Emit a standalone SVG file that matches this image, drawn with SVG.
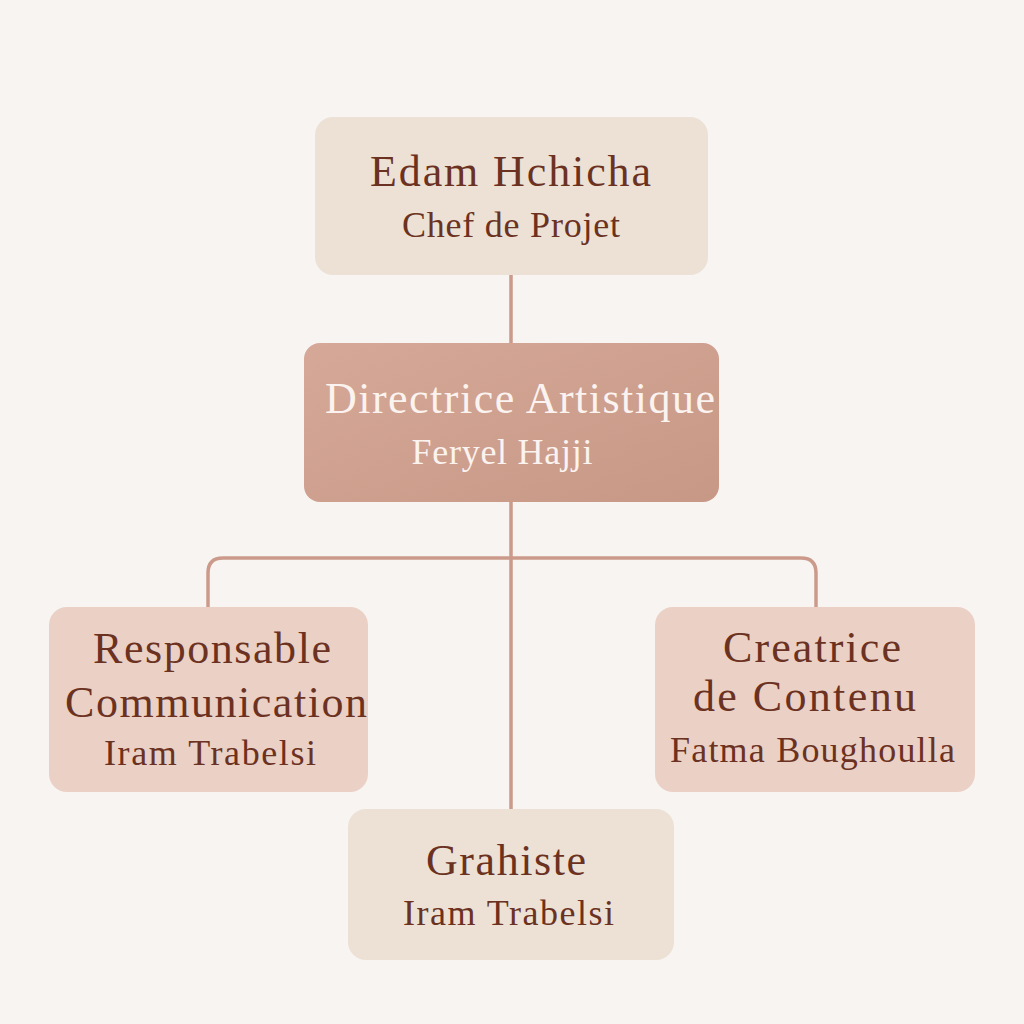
<svg xmlns="http://www.w3.org/2000/svg" width="1024" height="1024" viewBox="0 0 1024 1024">
<style>
.t{font-family:"Liberation Serif","DejaVu Serif",serif;fill:#6b3222;text-anchor:middle}
.h{font-size:44px}
.s{font-size:36px}
.w{fill:#fbf3ef}
.beige{fill:#ede1d5}
.rose{fill:#ebd0c6}
.conn{fill:none;stroke:#cb9a8b;stroke-width:3.5;stroke-linecap:round}
</style>
<defs>
<linearGradient id="dir" x1="0" y1="0" x2="1" y2="1">
<stop offset="0" stop-color="#d6a897"/>
<stop offset="1" stop-color="#c79886"/>
</linearGradient>
</defs>
<rect width="1024" height="1024" fill="#f8f4f1"/>
<g id="connectors">
<line class="conn" x1="511" y1="275" x2="511" y2="343"/>
<line class="conn" x1="511" y1="502" x2="511" y2="809"/>
<path class="conn" d="M208,607 V573 Q208,558 223,558 H801 Q816,558 816,573 V607"/>
</g>
<g id="node-edam">
<rect class="beige" x="315" y="117" width="393" height="158" rx="18"/>
<text class="t h" x="510.5" y="186" textLength="281" lengthAdjust="spacing">Edam Hchicha</text>
<text class="t s" x="511" y="237" textLength="218" lengthAdjust="spacing">Chef de Projet</text>
</g>
<g id="node-directrice">
<rect x="304" y="343" width="415" height="159" rx="16" fill="url(#dir)"/>
<text class="t h w" x="520" y="413" textLength="390" lengthAdjust="spacing">Directrice Artistique</text>
<text class="t s w" x="502" y="464" textLength="181" lengthAdjust="spacing">Feryel Hajji</text>
</g>
<g id="node-responsable">
<rect class="rose" x="49" y="607" width="319" height="185" rx="18"/>
<text class="t h" x="212" y="663" textLength="238" lengthAdjust="spacing">Responsable</text>
<text class="t h" x="216" y="717" textLength="302" lengthAdjust="spacing">Communication</text>
<text class="t s" x="210" y="765" textLength="212" lengthAdjust="spacing">Iram Trabelsi</text>
</g>
<g id="node-creatrice">
<rect class="rose" x="655" y="607" width="320" height="185" rx="18"/>
<text class="t h" x="812" y="662" textLength="178" lengthAdjust="spacing">Creatrice</text>
<text class="t h" x="804.5" y="711" textLength="223" lengthAdjust="spacing">de Contenu</text>
<text class="t s" x="812.5" y="762" textLength="285" lengthAdjust="spacing">Fatma Boughoulla</text>
</g>
<g id="node-grahiste">
<rect class="beige" x="348" y="809" width="326" height="151" rx="18"/>
<text class="t h" x="506" y="875" textLength="160" lengthAdjust="spacing">Grahiste</text>
<text class="t s" x="508.5" y="925" textLength="211" lengthAdjust="spacing">Iram Trabelsi</text>
</g>
</svg>
